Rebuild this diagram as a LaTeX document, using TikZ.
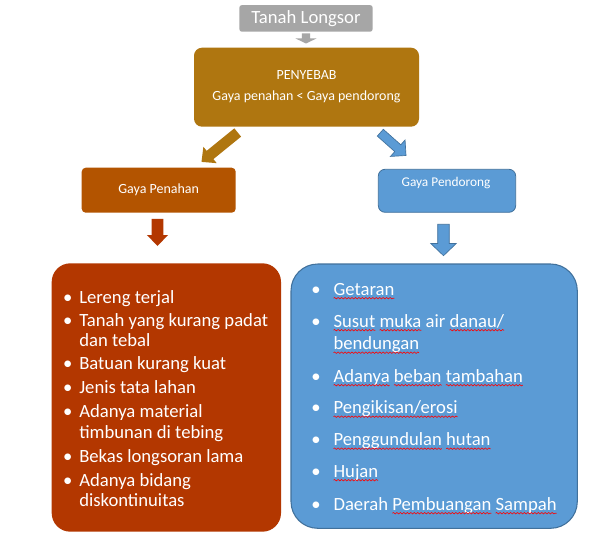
\documentclass[tikz,border=0pt]{standalone}
\usepackage{fontspec}
\setmainfont{Carlito}
\usetikzlibrary{calc,decorations.pathmorphing}
\definecolor{gry}{RGB}{166,166,166}
\definecolor{ochre}{RGB}{175,118,16}
\definecolor{orng}{RGB}{179,84,0}
\definecolor{rust}{RGB}{179,55,0}
\definecolor{sky}{RGB}{91,155,213}
\definecolor{skyline}{RGB}{65,113,156}
\newsavebox\sqbox
\newcommand\sq[1]{\sbox\sqbox{#1}\usebox\sqbox\tikz[overlay,x=1pt,y=1pt,baseline=0pt]\draw[red, line width=0.45pt, decorate,
  decoration={snake, amplitude=0.55pt, segment length=2.6pt}] (-\the\wd\sqbox,-2.4pt) -- (0pt,-2.4pt);}
% block arrow: #1 style, #2 start, #3 tip, #4 half shaft, #5 half head, #6 head length
\newcommand\blockarrow[6]{%
  \coordinate (hb) at ($(#3)!#6!(#2)$);
  \path[#1] ($(#2)!#4!90:(#3)$) -- ($(hb)!#4!-90:(#2)$) -- ($(hb)!#5!-90:(#2)$)
    -- (#3) -- ($(hb)!#5!90:(#2)$) -- ($(hb)!#4!90:(#2)$) -- ($(#2)!#4!-90:(#3)$) -- cycle;
}
\begin{document}
\begin{tikzpicture}[x=0.75pt,y=-0.75pt,
  box/.style={inner sep=0pt, text=white, align=center},
  itm/.style={inner sep=0pt, text=white, anchor=base west, font=\fontsize{14}{16}\selectfont},
  itmr/.style={inner sep=0pt, text=white, anchor=base west, font=\fontsize{14}{16}\selectfont},
  bul/.style={inner sep=0pt, text=white, anchor=base, font=\fontsize{14}{16}\selectfont},
  bulr/.style={inner sep=0pt, text=white, anchor=base, font=\fontsize{14}{16}\selectfont},
  txt/.style={inner sep=0pt, text=white}]
\useasboundingbox[fill=white] (0,0) rectangle (613,552);

% boxes
\node[box, fill=gry, rounded corners=2pt, minimum width=100pt, minimum height=20pt,
  font=\fontsize{14}{16}\selectfont] (top) at (306,18.4) {Tanah Longsor};
\node[box, fill=ochre, rounded corners=6pt, minimum width=168.75pt, minimum height=59.25pt,
  font=\fontsize{10.5}{15.75}\selectfont] (cause) at (306.5,87.2) {PENYEBAB\\Gaya penahan < Gaya pendorong};
\node[box, fill=orng, rounded corners=3pt, minimum width=115.5pt, minimum height=33.75pt,
  font=\fontsize{10.5}{12}\selectfont] (pen) at (158.7,190.2) {Gaya Penahan};
\node[box, fill=sky, draw=skyline, line width=0.6pt, rounded corners=5pt, minimum width=103pt,
  minimum height=32.25pt] (pdr) at (447,190.8) {};
\node[txt, font=\fontsize{10}{12}\selectfont] (pdrt) at (446,183) {Gaya Pendorong};
\node[box, fill=rust, rounded corners=14pt, minimum width=172pt, minimum height=201.3pt] (lbox) at (166.35,397.5) {};
\node[box, fill=sky, draw=skyline, line width=0.8pt, rounded corners=20pt, minimum width=214.7pt,
  minimum height=198.2pt] (rbox) at (434.15,396.15) {};

% arrows
\coordinate (a1s) at (306,33.3);   \coordinate (a1t) at (306,43.5);
\coordinate (a2s) at (237.7,132.5);\coordinate (a2t) at (201.5,161.9);
\coordinate (a3s) at (380.3,132.7);\coordinate (a3t) at (406,155.5);
\coordinate (a4s) at (157.5,219);  \coordinate (a4t) at (157.5,246);
\coordinate (a5s) at (443.5,224.3);\coordinate (a5t) at (443.5,255.7);
\blockarrow{fill=gry}{a1s}{a1t}{3.1pt}{7.9pt}{3.8pt}
\blockarrow{fill=ochre}{a2s}{a2t}{4pt}{7.9pt}{8.25pt}
\blockarrow{fill=sky,draw=skyline,line width=0.5pt}{a3s}{a3t}{3.4pt}{8.25pt}{8.25pt}
\blockarrow{fill=rust}{a4s}{a4t}{4.35pt}{7.9pt}{8.25pt}
\blockarrow{fill=sky,draw=skyline,line width=0.5pt}{a5s}{a5t}{4.35pt}{9.6pt}{9.2pt}

% left list
\node[bul] (lb1) at (67.7,303) {•}; \node[itm] (l1) at (79,303) {Lereng terjal};
\node[bul] (lb2) at (67.7,326) {•}; \node[itm] (l2) at (79,326) {Tanah yang kurang padat};
\node[itm] (l2b) at (79,346) {dan tebal};
\node[bul] (lb3) at (67.7,369.5) {•}; \node[itm] (l3) at (79,369.5) {Batuan kurang kuat};
\node[bul] (lb4) at (67.7,393) {•}; \node[itm] (l4) at (79,393) {Jenis tata lahan};
\node[bul] (lb5) at (67.7,417) {•}; \node[itm] (l5) at (79,417) {Adanya material};
\node[itm] (l5b) at (79,438) {timbunan di tebing};
\node[bul] (lb6) at (67.7,462) {•}; \node[itm] (l6) at (79,462) {Bekas longsoran lama};
\node[bul] (lb7) at (67.7,486) {•}; \node[itm] (l7) at (79,486) {Adanya bidang};
\node[itm] (l7b) at (79,506) {diskontinuitas};

% right list
\node[bulr] (rb1) at (316,295) {•}; \node[itmr] (r1) at (333.3,295) {\sq{Getaran}};
\node[bulr] (rb2) at (316,327) {•}; \node[itmr] (r2) at (333.3,327) {\sq{Susut} \sq{muka} air \sq{danau/}};
\node[itmr] (r2b) at (333.3,349.5) {\sq{bendungan}};
\node[bulr] (rb3) at (316,382) {•}; \node[itmr] (r3) at (333.3,382) {\sq{Adanya} \sq{beban} \sq{tambahan}};
\node[bulr] (rb4) at (316,413.5) {•}; \node[itmr] (r4) at (333.3,413.5) {\sq{Pengikisan/erosi}};
\node[bulr] (rb5) at (316,445.5) {•}; \node[itmr] (r5) at (333.3,445.5) {\sq{Penggundulan} \sq{hutan}};
\node[bulr] (rb6) at (316,477) {•}; \node[itmr] (r6) at (333.3,477) {\sq{Hujan}};
\node[bulr] (rb7) at (316,510) {•}; \node[itmr] (r7) at (333.3,510) {Daerah \sq{Pembuangan} \sq{Sampah}};
\end{tikzpicture}
\end{document}
